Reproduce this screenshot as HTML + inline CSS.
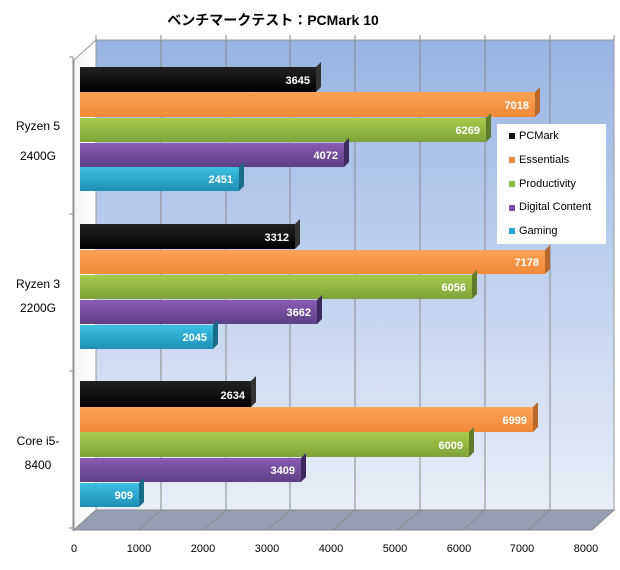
<!DOCTYPE html>
<html><head><meta charset="utf-8"><style>
body{margin:0;background:#fff;}
svg{display:block;font-family:"Liberation Sans","Noto Sans CJK JP",sans-serif;}
</style></head><body>
<svg width="620" height="570" xmlns="http://www.w3.org/2000/svg">
<defs>
<linearGradient id="wall" x1="0" y1="0" x2="0" y2="1"><stop offset="0" stop-color="#98b4e4"/><stop offset="1" stop-color="#e8eef8"/></linearGradient>
<linearGradient id="lw" x1="0" y1="0" x2="1" y2="0"><stop offset="0" stop-color="#f4f4f4"/><stop offset="1" stop-color="#ffffff"/></linearGradient>
<linearGradient id="gk" x1="0" y1="0" x2="0" y2="1"><stop offset="0" stop-color="#222"/><stop offset="1" stop-color="#000"/></linearGradient>
<linearGradient id="go" x1="0" y1="0" x2="0" y2="1"><stop offset="0" stop-color="#fba254"/><stop offset="1" stop-color="#f08a38"/></linearGradient>
<linearGradient id="gg" x1="0" y1="0" x2="0" y2="1"><stop offset="0" stop-color="#a6cc4c"/><stop offset="1" stop-color="#7da23a"/></linearGradient>
<linearGradient id="gp" x1="0" y1="0" x2="0" y2="1"><stop offset="0" stop-color="#8a5cb0"/><stop offset="1" stop-color="#5e3f86"/></linearGradient>
<linearGradient id="gc" x1="0" y1="0" x2="0" y2="1"><stop offset="0" stop-color="#3cc0e4"/><stop offset="1" stop-color="#1e8fb4"/></linearGradient>
</defs>
<text x="273" y="25" font-size="14" font-weight="bold" text-anchor="middle" fill="#000">ベンチマークテスト：PCMark 10</text>
<!-- back wall -->
<rect x="96" y="40" width="518" height="470" fill="url(#wall)" stroke="#999"/>
<!-- left wall -->
<polygon points="74,60 96,40 96,510 74,530" fill="url(#lw)" stroke="#999"/>
<!-- floor -->
<polygon points="96,510 614,510 592,530 74,530" fill="#959eb4" stroke="#888"/>
<g stroke="#8a8a8a" stroke-width="1">
<line x1="161" y1="40" x2="161" y2="510"/><line x1="226" y1="40" x2="226" y2="510"/><line x1="290" y1="40" x2="290" y2="510"/><line x1="355" y1="40" x2="355" y2="510"/><line x1="420" y1="40" x2="420" y2="510"/><line x1="485" y1="40" x2="485" y2="510"/><line x1="550" y1="40" x2="550" y2="510"/>
<line x1="161" y1="510" x2="139" y2="530"/><line x1="226" y1="510" x2="204" y2="530"/><line x1="290" y1="510" x2="268" y2="530"/><line x1="355" y1="510" x2="333" y2="530"/><line x1="420" y1="510" x2="398" y2="530"/><line x1="485" y1="510" x2="463" y2="530"/><line x1="550" y1="510" x2="528" y2="530"/>
<line x1="96" y1="40" x2="96" y2="35"/><line x1="161" y1="40" x2="161" y2="35"/><line x1="226" y1="40" x2="226" y2="35"/><line x1="290" y1="40" x2="290" y2="35"/><line x1="355" y1="40" x2="355" y2="35"/><line x1="420" y1="40" x2="420" y2="35"/><line x1="485" y1="40" x2="485" y2="35"/><line x1="550" y1="40" x2="550" y2="35"/><line x1="614" y1="40" x2="614" y2="35"/>
<line x1="73" y1="57" x2="73" y2="531"/><line x1="69" y1="57" x2="73" y2="57"/><line x1="69" y1="214" x2="73" y2="214"/><line x1="69" y1="371" x2="73" y2="371"/><line x1="69" y1="528" x2="73" y2="528"/>
</g>
<g id="bars" font-size="11" font-weight="bold" fill="#fff" text-anchor="end">
<!-- group1 -->
<rect x="80" y="67" width="236" height="25" fill="url(#gk)"/><polygon points="316,67 321,62 321,87 316,92" fill="#333"/><text x="310" y="84">3645</text>
<rect x="80" y="92" width="455" height="25" fill="url(#go)"/><polygon points="535,92 540,87 540,112 535,117" fill="#b86a2c"/><text x="529" y="109">7018</text>
<rect x="80" y="118" width="406" height="24" fill="url(#gg)"/><polygon points="486,118 491,113 491,137 486,142" fill="#5e7c2a"/><text x="480" y="134">6269</text>
<rect x="80" y="143" width="264" height="24" fill="url(#gp)"/><polygon points="344,143 349,138 349,162 344,167" fill="#3e2860"/><text x="338" y="159">4072</text>
<rect x="80" y="167" width="159" height="24" fill="url(#gc)"/><polygon points="239,167 244,162 244,186 239,191" fill="#176c88"/><text x="233" y="183">2451</text>
<!-- group2 -->
<rect x="80" y="224" width="215" height="25" fill="url(#gk)"/><polygon points="295,224 300,219 300,244 295,249" fill="#333"/><text x="289" y="241">3312</text>
<rect x="80" y="250" width="465" height="24" fill="url(#go)"/><polygon points="545,250 550,245 550,269 545,274" fill="#b86a2c"/><text x="539" y="266">7178</text>
<rect x="80" y="275" width="392" height="24" fill="url(#gg)"/><polygon points="472,275 477,270 477,294 472,299" fill="#5e7c2a"/><text x="466" y="291">6056</text>
<rect x="80" y="300" width="237" height="24" fill="url(#gp)"/><polygon points="317,300 322,295 322,319 317,324" fill="#3e2860"/><text x="311" y="316">3662</text>
<rect x="80" y="325" width="133" height="24" fill="url(#gc)"/><polygon points="213,325 218,320 218,344 213,349" fill="#176c88"/><text x="207" y="341">2045</text>
<!-- group3 -->
<rect x="80" y="381" width="171" height="26" fill="url(#gk)"/><polygon points="251,381 256,376 256,402 251,407" fill="#333"/><text x="245" y="399">2634</text>
<rect x="80" y="407" width="453" height="25" fill="url(#go)"/><polygon points="533,407 538,402 538,427 533,432" fill="#b86a2c"/><text x="527" y="424">6999</text>
<rect x="80" y="432" width="389" height="25" fill="url(#gg)"/><polygon points="469,432 474,427 474,452 469,457" fill="#5e7c2a"/><text x="463" y="449">6009</text>
<rect x="80" y="458" width="221" height="24" fill="url(#gp)"/><polygon points="301,458 306,453 306,477 301,482" fill="#3e2860"/><text x="295" y="474">3409</text>
<rect x="80" y="483" width="59" height="24" fill="url(#gc)"/><polygon points="139,483 144,478 144,502 139,507" fill="#176c88"/><text x="133" y="499">909</text>
</g>
<!-- legend -->
<rect x="497" y="124" width="109" height="120" fill="#fff"/>
<g font-size="11" fill="#000">
<rect x="509" y="133" width="6" height="6" fill="#111"/><text x="519" y="139">PCMark</text>
<rect x="509" y="157" width="6" height="6" fill="#f08a38"/><text x="519" y="163">Essentials</text>
<rect x="509" y="181" width="6" height="6" fill="#8db844"/><text x="519" y="187">Productivity</text>
<rect x="509" y="205" width="6" height="6" fill="#7a4ea0"/><text x="519" y="210">Digital Content</text>
<rect x="509" y="228" width="6" height="6" fill="#2aa8d0"/><text x="519" y="234">Gaming</text>
</g>
<!-- y labels -->
<g font-size="12" fill="#000" text-anchor="middle">
<text x="38" y="130">Ryzen 5</text><text x="38" y="160">2400G</text>
<text x="38" y="288">Ryzen 3</text><text x="38" y="312">2200G</text>
<text x="38" y="445">Core i5-</text><text x="38" y="469">8400</text>
</g>
<g font-size="11" fill="#000" text-anchor="middle">
<text x="74" y="552">0</text><text x="139" y="552">1000</text><text x="203" y="552">2000</text><text x="267" y="552">3000</text><text x="331" y="552">4000</text><text x="395" y="552">5000</text><text x="459" y="552">6000</text><text x="522" y="552">7000</text><text x="586" y="552">8000</text>
</g>
</svg>
</body></html>
